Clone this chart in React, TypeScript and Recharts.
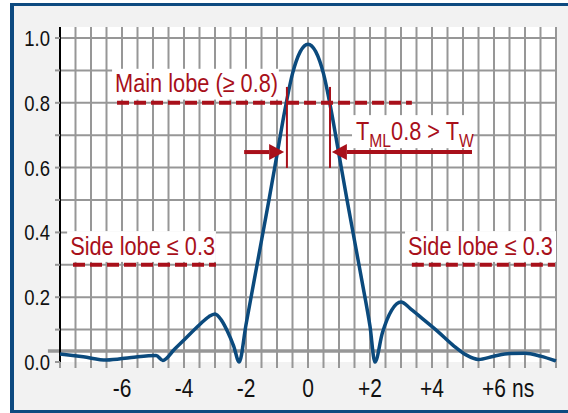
import {
  CartesianGrid,
  Line,
  LineChart,
  ReferenceArea,
  ReferenceLine,
  XAxis,
  YAxis,
} from "recharts";

// pulse envelope, time in ns
const timeNs = [
  -8, -7.25, -6.5, -5.7, -4.9, -4.68, -4.3, -4, -3.5, -3.2, -3, -2.8, -2.6, -2.4, -2.22, -2, -1.75,
  -1.5, -1.25, -1, -0.75, -0.5, -0.25, 0, 0.25, 0.5, 0.75, 1, 1.25, 1.5, 1.75, 2, 2.16, 2.4, 2.7, 3,
  3.3, 3.7, 4.2, 4.7, 5.1, 5.5, 6, 6.5, 7, 7.5, 8,
];
const amplitude = [
  0.025, 0.016, 0.006, 0.014, 0.02, 0.005, 0.04, 0.068, 0.115, 0.14, 0.148, 0.13, 0.095, 0.05, 0.0,
  0.115, 0.245, 0.375, 0.505, 0.64, 0.775, 0.89, 0.958, 0.981, 0.958, 0.89, 0.775, 0.64, 0.505, 0.375,
  0.245, 0.11, 0.0, 0.09, 0.16, 0.185, 0.165, 0.133, 0.093, 0.05, 0.022, 0.008, 0.018, 0.026, 0.027,
  0.018, 0.003,
];

const xTicks = [
  -8, -7.5, -7, -6.5, -6, -5.5, -5, -4.5, -4, -3.5, -3, -2.5, -2, -1.5, -1, -0.5, 0, 0.5, 1, 1.5, 2,
  2.5, 3, 3.5, 4, 4.5, 5, 5.5, 6, 6.5, 7, 7.5, 8,
];
const xLabels: Record<string, string> = {
  "-6": "-6",
  "-4": "-4",
  "-2": "-2",
  "0": "0",
  "2": "+2",
  "4": "+4",
  "6": "+6",
};
const yTicks = [0, 0.1, 0.2, 0.3, 0.4, 0.5, 0.6, 0.7, 0.8, 0.9, 1.0];
const yLabels = [0, 0.2, 0.4, 0.6, 0.8, 1.0];

const mainLobeLevel = 0.8;
const sideLobeLevel = 0.3;
const baselineLevel = 0.034;

const data = timeNs.map((t, i) => ({ t, a: amplitude[i] }));

// no narrow font installed, so squeeze Liberation Sans horizontally
const FONT = "'Liberation Sans', Arial, sans-serif";
const RED = "#a8101a";
const BLUE = "#0b4a7d";
const GRID = "#979797";

function Narrow({ x, y, anchor = "start", size, fill, squeeze = 0.84, children }: any) {
  return (
    <g transform={`translate(${x},${y}) scale(${squeeze},1)`}>
      <text x={0} y={0} textAnchor={anchor} fontFamily={FONT} fontSize={size} fill={fill}>
        {children}
      </text>
    </g>
  );
}

function XTick({ x, y, payload }: any) {
  const label = xLabels[String(payload.value)];
  if (!label) return null;
  return (
    <g>
      <Narrow x={x} y={y + 29} anchor="middle" size={25} fill="#111">
        {label}
      </Narrow>
      {payload.value === 6 && (
        <Narrow x={x + 18} y={y + 29} size={25} fill="#111">
          ns
        </Narrow>
      )}
    </g>
  );
}

function YTick({ x, y, payload }: any) {
  if (!yLabels.some((v) => Math.abs(v - payload.value) < 1e-6)) return null;
  return (
    <Narrow x={x} y={y + 8} anchor="end" size={22} fill="#111">
      {payload.value.toFixed(1)}
    </Narrow>
  );
}

const labelBox = (text: React.ReactNode, dx: number, dy: number) => (p: any) => (
  <g>
    <rect x={p.x} y={p.y} width={p.width} height={p.height} fill="#fff" />
    <Narrow x={p.x + dx} y={p.y + dy} size={25} squeeze={0.87} fill={RED}>
      {text}
    </Narrow>
  </g>
);

const arrow = (p: any) => {
  const dir = Math.sign(p.x2 - p.x1);
  const head = 15;
  const bx = p.x2 - dir * head;
  return (
    <g>
      <line x1={p.x1} y1={p.y1} x2={bx} y2={p.y2} stroke={RED} strokeWidth={4} />
      <polygon points={`${p.x2},${p.y2} ${bx},${p.y2 - 8} ${bx},${p.y2 + 8}`} fill={RED} />
    </g>
  );
};

export default function App() {
  return (
    <div
      style={{
        position: "fixed",
        left: 0,
        top: 0,
        width: 568,
        height: 413,
        overflow: "hidden",
        background: "#fff",
      }}
    >
      <div
        style={{
          position: "absolute",
          left: 10,
          top: 3,
          width: 580,
          height: 404,
          background: "#f2f2f2",
          borderTop: "3px solid #0d4a80",
          borderLeft: "4px solid #0d4a80",
          borderBottom: "3px solid #0d4a80",
        }}
      />
      <div style={{ position: "absolute", left: 0, top: 0 }}>
        <LineChart width={568} height={413} data={data} margin={{ top: 27, right: 12, left: 0, bottom: 0 }}>
          <CartesianGrid
            stroke={GRID}
            strokeWidth={2}
            fill="#fff"
            fillOpacity={1}
            horizontalValues={yTicks.slice(1)}
            verticalValues={xTicks.slice(1)}
          />
          <XAxis
            type="number"
            dataKey="t"
            domain={[-8, 8]}
            ticks={xTicks}
            interval={0}
            height={51}
            axisLine={false}
            tickSize={6}
            tickMargin={0}
            tickLine={{ stroke: GRID, strokeWidth: 2 }}
            tick={<XTick />}
          />
          <YAxis
            type="number"
            domain={[0, 1.034]}
            ticks={yTicks}
            interval={0}
            width={60}
            axisLine={false}
            tickSize={5}
            tickMargin={5}
            tickLine={{ stroke: GRID, strokeWidth: 2 }}
            tick={<YTick />}
          />

          <ReferenceArea x1={-6.32} x2={-0.94} y1={0.81} y2={0.905} ifOverflow="visible" shape={labelBox("Main lobe (≥ 0.8)", 3, 23)} />
          <ReferenceArea
            x1={1.42}
            x2={5.29}
            y1={0.66}
            y2={0.762}
            ifOverflow="visible"
            shape={labelBox(
              <>
                <tspan>T</tspan>
                <tspan dy={7} fontSize={18}>ML</tspan>
                <tspan dy={-7}>0.8 &gt; T</tspan>
                <tspan dy={7} fontSize={18}>W</tspan>
              </>,
              4,
              25,
            )}
          />
          <ReferenceArea x1={-7.77} x2={-2.97} y1={0.309} y2={0.404} ifOverflow="visible" shape={labelBox("Side lobe ≤ 0.3", 3, 24)} />
          <ReferenceArea x1={3.13} x2={8} y1={0.309} y2={0.404} ifOverflow="visible" shape={labelBox("Side lobe ≤ 0.3", 3, 24)} />

          <ReferenceLine
            segment={[{ x: -8.39, y: baselineLevel }, { x: 7.8, y: baselineLevel }]}
            stroke={GRID}
            strokeWidth={3.5}
            ifOverflow="visible"
          />
          <ReferenceLine
            segment={[{ x: -8, y: -0.0185 }, { x: -8, y: 1.034 }]}
            stroke="#000"
            strokeWidth={2}
            ifOverflow="visible"
          />

          <Line
            type="monotone"
            dataKey="a"
            stroke={BLUE}
            strokeWidth={3.5}
            dot={false}
            activeDot={false}
            isAnimationActive={false}
          />

          <ReferenceLine
            segment={[{ x: -6.16, y: mainLobeLevel }, { x: 3.35, y: mainLobeLevel }]}
            stroke={RED}
            strokeWidth={4}
            strokeDasharray="12 5"
          />
          <ReferenceLine
            segment={[{ x: -7.58, y: sideLobeLevel }, { x: -2.97, y: sideLobeLevel }]}
            stroke={RED}
            strokeWidth={4}
            strokeDasharray="12 5"
          />
          <ReferenceLine
            segment={[{ x: 3.35, y: sideLobeLevel }, { x: 7.97, y: sideLobeLevel }]}
            stroke={RED}
            strokeWidth={4}
            strokeDasharray="12 5"
          />
          <ReferenceLine segment={[{ x: -0.68, y: 0.599 }, { x: -0.68, y: 0.849 }]} stroke={RED} strokeWidth={2} />
          <ReferenceLine segment={[{ x: 0.71, y: 0.599 }, { x: 0.71, y: 0.849 }]} stroke={RED} strokeWidth={2} />
          <ReferenceLine segment={[{ x: -2.06, y: 0.648 }, { x: -0.77, y: 0.648 }]} shape={arrow} />
          <ReferenceLine segment={[{ x: 5.29, y: 0.648 }, { x: 0.77, y: 0.648 }]} shape={arrow} />
        </LineChart>
      </div>
    </div>
  );
}
